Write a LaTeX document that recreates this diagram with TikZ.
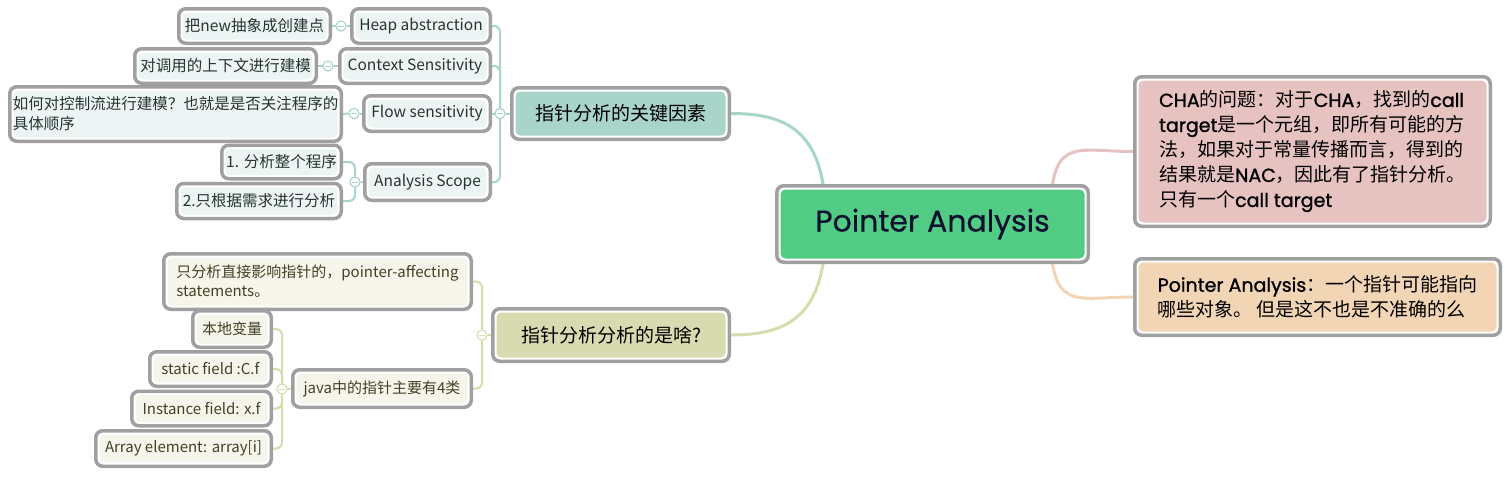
\documentclass[tikz,border=0pt]{standalone}
\usepackage{fontspec}
\setmainfont{Noto Sans CJK SC}
\newfontfamily\popfont{Poppins}[FakeBold=0.6]
\newfontfamily\popmed{Poppins}[FakeBold=1.2]
\newcommand{\latbold}[1]{{\popmed #1}}
\definecolor{bordergray}{HTML}{A0A0A0}
\definecolor{cgreen}{HTML}{52CC85}
\definecolor{kteal}{HTML}{A9D4C9}
\definecolor{wkhaki}{HTML}{D8DBB0}
\definecolor{rpink}{HTML}{E6C3C1}
\definecolor{rorange}{HTML}{F2D5B5}
\definecolor{steal}{HTML}{ECF5F3}
\definecolor{skhaki}{HTML}{F5F5EC}
\definecolor{tline}{HTML}{A8D5CA}
\definecolor{kline}{HTML}{D7DBAE}
\definecolor{pline}{HTML}{E6C3C1}
\definecolor{oline}{HTML}{F2D5B5}
\definecolor{navy}{HTML}{0E1030}
\definecolor{ttext}{HTML}{263532}
\definecolor{ktext}{HTML}{424224}
\tikzset{
  box/.style={rounded corners=7pt, draw=bordergray, line width=3.5pt, fill=white,
    inner sep=0pt, align=center,
    path picture={\fill[#1, rounded corners=5pt]
      ([shift={(3.75pt,-3.75pt)}]path picture bounding box.north west) rectangle
      ([shift={(-3.75pt,3.75pt)}]path picture bounding box.south east);}},
  small/.style={box=steal, text=ttext, font=\fontsize{15.5}{20}\selectfont},
  smallk/.style={box=skhaki, text=ktext, font=\fontsize{15}{19}\selectfont},
  mid/.style={text=black, font=\fontsize{19}{24}\selectfont},
  right/.style={align=left, text=black, font=\fontsize{19}{25}\selectfont},
  mark/.style={circle, minimum size=10pt, inner sep=0pt, draw=#1, line width=1pt, fill=white,
    path picture={\draw[#1, line width=1pt]
      ([xshift=-3pt]path picture bounding box.center) -- ([xshift=3pt]path picture bounding box.center);}},
  bline/.style={draw=#1, line width=2pt, rounded corners=6pt},
  mline/.style={draw=#1, line width=3pt},
}
\begin{document}
\begin{tikzpicture}[x=1pt,y=-1pt]
\fill[white] (0,0) rectangle (1510,477);
\useasboundingbox (0,0) rectangle (1510,477);

% anchor coordinates inside the central node
\coordinate (cL) at (826,224);
\coordinate (cR) at (1050,224);

% main nodes
\node[box=kteal, mid, minimum width=217.5pt, minimum height=51.5pt] (K) at (620.5,113.5) {指针分析的关键因素};
\node[box=wkhaki, mid, minimum width=236.5pt, minimum height=52.5pt] (W) at (611,335) {指针分析分析的是啥?};
\node[box=rpink, right, minimum width=355.5pt, minimum height=149.5pt] (R1) at (1312.5,151.5)
 {\latbold{CHA}的问题：对于\latbold{CHA}，找到的\latbold{call}\\
  \latbold{target}是一个元组，即所有可能的方\\
  法，如果对于常量传播而言，得到的\\
  结果就是\latbold{NAC}，因此有了指针分析。\\
  只有一个\latbold{call target}};
\node[box=rorange, right, minimum width=365.5pt, minimum height=76.5pt] (R2) at (1317.5,297)
 {\latbold{Pointer Analysis}：一个指针可能指向\\
  哪些对象。 但是这不也是不准确的么};

% main connectors (behind central node)
\draw[mline=tline] (K.east) .. controls +(60,0) and +(0,-90) .. (cL);
\draw[mline=kline] (W.east) .. controls +(60,0) and +(0,90) .. (cL);
\draw[mline=pline] (R1.west) .. controls +(-60,0) and +(0,-90) .. (cR);
\draw[mline=oline] (R2.west) .. controls +(-60,0) and +(0,90) .. (cR);

\node[box=cgreen, text=navy, font=\popfont\fontsize{30}{34}\selectfont,
      minimum width=311.5pt, minimum height=76.5pt] (C) at (932.5,224) {Pointer Analysis};

% top-left subtree
\node[small, minimum width=138.5pt, minimum height=34.5pt] (Heap) at (421,26) {Heap abstraction};
\node[small, minimum width=151.5pt, minimum height=34.5pt] (New) at (254.5,26) {把new抽象成创建点};
\node[small, minimum width=150.5pt, minimum height=34.5pt] (Ctx) at (415,66) {Context Sensitivity};
\node[small, minimum width=181.5pt, minimum height=34.5pt] (CtxC) at (225.5,66) {对调用的上下文进行建模};
\node[small, minimum width=126.5pt, minimum height=35.5pt] (Flow) at (427,113.5) {Flow sensitivity};
\node[small, align=left, minimum width=331.5pt, minimum height=54.5pt] (FlowC) at (175.5,114)
 {如何对控制流进行建模？也就是是否关注程序的\\具体顺序};
\node[small, minimum width=125.5pt, minimum height=36.5pt] (Scope) at (427.5,182) {Analysis Scope};
\node[small, minimum width=119.5pt, minimum height=33.5pt] (S1) at (281.5,162) {1. 分析整个程序};
\node[small, minimum width=164.5pt, minimum height=35pt] (S2) at (259,201) {2.只根据需求进行分析};

\node[mark=tline] (mK) at (500,113.5) {};
\node[mark=tline] (mHeap) at (341,26) {};
\node[mark=tline] (mCtx) at (328,66) {};
\node[mark=tline] (mFlow) at (354,113.5) {};
\node[mark=tline] (mScope) at (355,182) {};

% bottom-left subtree
\node[smallk, align=left, minimum width=307.5pt, minimum height=55.5pt] (P) at (317.5,281.5)
 {只分析直接影响指针的，pointer-affecting\\statements。};
\node[smallk, minimum width=178.5pt, minimum height=37.5pt] (J) at (382,388.5) {java中的指针主要有4类};
\node[smallk, minimum width=78.5pt, minimum height=36.5pt] (L) at (232,329) {本地变量};
\node[smallk, minimum width=121.5pt, minimum height=34.5pt] (SF) at (210.5,369) {static field :C.f};
\node[smallk, minimum width=139.5pt, minimum height=34.5pt] (IF) at (201.5,408.5) {Instance field: x.f};
\node[smallk, minimum width=175.5pt, minimum height=35.5pt] (AE) at (183.5,448.5) {Array element: array[i]};

\node[mark=kline] (mW) at (482,335) {};
\node[mark=kline] (mJ) at (282,389) {};

% branch connectors
\draw[bline=tline] (mK.west) -- (mK.center) |- (Heap.east);
\draw[bline=tline] (mK.center) |- (Ctx.east);
\draw[bline=tline] (mK.west) -- (Flow.east);
\draw[bline=tline] (mK.center) |- (Scope.east);
\draw[bline=tline] (mK.east) -- (K.west);
\draw[bline=tline] (New.east) -- (mHeap.west);
\draw[bline=tline] (mHeap.east) -- (Heap.west);
\draw[bline=tline] (CtxC.east) -- (mCtx.west);
\draw[bline=tline] (mCtx.east) -- (Ctx.west);
\draw[bline=tline] (FlowC.east) -- (mFlow.west);
\draw[bline=tline] (mFlow.east) -- (Flow.west);
\draw[bline=tline] (mScope.east) -- (Scope.west);
\draw[bline=tline] (mScope.north) |- (S1.east);
\draw[bline=tline] (mScope.south) |- (S2.east);
\draw[bline=kline] (mW.east) -- (W.west);
\draw[bline=kline] (mW.north) |- (P.east);
\draw[bline=kline] (mW.south) |- (J.east);
\draw[bline=kline] (mJ.east) -- (J.west);
\draw[bline=kline] (mJ.north) |- (L.east);
\draw[bline=kline] (mJ.north) |- (SF.east);
\draw[bline=kline] (mJ.south) |- (IF.east);
\draw[bline=kline] (mJ.south) |- (AE.east);

% redraw markers on top
\node[mark=tline] at (mK) {};
\node[mark=tline] at (mHeap) {};
\node[mark=tline] at (mCtx) {};
\node[mark=tline] at (mFlow) {};
\node[mark=tline] at (mScope) {};
\node[mark=kline] at (mW) {};
\node[mark=kline] at (mJ) {};
\end{tikzpicture}
\end{document}
